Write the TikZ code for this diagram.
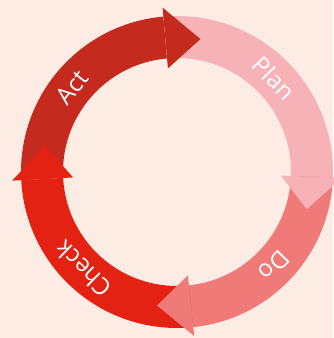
\documentclass[tikz,border=0pt]{standalone}
\usepackage{fontspec}
\setmainfont{Open Sans}
\usetikzlibrary{positioning}
\definecolor{pdcabg}{RGB}{253,236,228}
\definecolor{actred}{RGB}{196,42,30}
\definecolor{planpink}{RGB}{247,178,183}
\definecolor{dosalmon}{RGB}{239,122,120}
\definecolor{checkred}{RGB}{227,34,20}
\def\rin{114}
\def\rout{156}
\def\rmid{135}
\def\rhin{104}
\def\rhout{165}
\tikzstyle{lbl} = [text=white, font=\fontsize{24}{26}\selectfont, inner sep=0pt]

\begin{document}
\begin{tikzpicture}[x=1pt,y=1pt]
      \fill[pdcabg] (0,0) rectangle (333,338);
      \useasboundingbox (0,0) rectangle (333,338);
      \begin{scope}[shift={(177,166)}]
      % bodies
      \fill[actred] (183:\rout) arc[start angle=183, end angle=95, radius=\rout] -- (95:\rin) arc[start angle=95, end angle=183, radius=\rin] -- cycle;
      \fill[planpink] (95:\rout) arc[start angle=95, end angle=-2, radius=\rout] -- (-2:\rin) arc[start angle=-2, end angle=95, radius=\rin] -- cycle;
      \fill[dosalmon] (-2:\rout) arc[start angle=-2, end angle=-84, radius=\rout] -- (-84:\rin) arc[start angle=-84, end angle=-2, radius=\rin] -- cycle;
      \fill[checkred] (-84:\rout) arc[start angle=-84, end angle=-177, radius=\rout] -- (-177:\rin) arc[start angle=-177, end angle=-84, radius=\rin] -- cycle;
      % heads
      \fill[actred] (95:\rhin) -- (95:\rhout) -- (80:\rmid) -- cycle;
      \fill[planpink] (-2:\rhin) -- (-2:\rhout) -- (-16:\rmid) -- cycle;
      \fill[dosalmon] (-84:\rhin) -- (-84:\rhout) -- (-98.5:\rmid) -- cycle;
      \fill[checkred] (-177:\rhin) -- (-177:\rhout) -- (-191.3:\rmid) -- cycle;
      % labels
      \node[lbl, rotate=-46] (plan) at (44:\rmid) {Plan};
      \node[lbl, rotate=-134] (do) at (-44:\rmid) {Do};
      \node[lbl, rotate=136] (check) at (-134:\rmid) {Check};
      \node[lbl, rotate=51] (act) at (141:\rmid) {Act};
      \end{scope}
\end{tikzpicture}
\end{document}
